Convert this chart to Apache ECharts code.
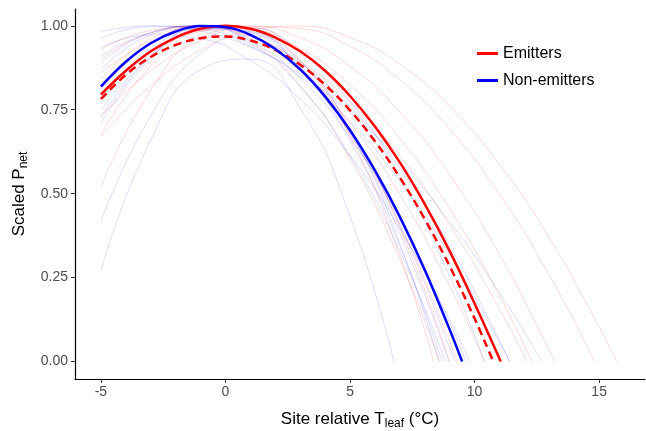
<!DOCTYPE html>
<html>
<head>
    <meta charset="utf-8">
    <title>Scaled Pnet</title>
    <script src="https://cdn.jsdelivr.net/npm/echarts@6/dist/echarts.min.js"></script>
    <style>
        html, body { margin: 0; padding: 0; background: #fff; }
        #main { width: 646px; height: 431px; }
    </style>
</head>
<body>
<div id="main"></div>
<script>
    // ---- data ----
    // thin per-species curves, sampled at these temperatures, then the point where they hit 0
    var thinX = [-5, -3, -1, 1, 3, 5, 7, 9, 11, 13, 15];

    var blueThinY = [
        [0.272, 0.659, 0.869, 0.901, 0.755, 0.432],
        [0.418, 0.732, 0.916, 0.970, 0.894, 0.688, 0.352],
        [0.710, 0.902, 0.992, 0.982, 0.870, 0.657, 0.344],
        [0.983, 1.000, 0.984, 0.936, 0.855, 0.741, 0.595, 0.416, 0.205],
        [0.963, 0.998, 0.990, 0.940, 0.848, 0.714, 0.537, 0.318, 0.057],
        [0.935, 0.973, 0.961, 0.896, 0.781, 0.613, 0.395, 0.125],
        [0.870, 0.973, 0.999, 0.947, 0.818, 0.612, 0.328],
        [0.890, 0.978, 0.999, 0.954, 0.844, 0.667, 0.424, 0.115],
        [0.750, 0.907, 0.988, 0.993, 0.922, 0.775, 0.552, 0.254],
        [0.726, 0.907, 0.992, 0.983, 0.878, 0.678, 0.382],
        [0.910, 0.980, 1.000, 0.969, 0.888, 0.757, 0.576, 0.345, 0.063],
        [0.770, 0.926, 0.996, 0.979, 0.875, 0.684, 0.406, 0.041]
    ];
    var blueThinEnd = [6.76, 8.56, 8.69, 12.7, 11.4, 9.81, 8.83, 9.65, 10.4, 8.96, 11.4, 9.2];

    var redThinY = [
        [0.520, 0.807, 0.965, 0.995, 0.897, 0.670, 0.315],
        [0.675, 0.880, 0.985, 0.989, 0.893, 0.696, 0.398],
        [0.930, 0.986, 0.999, 0.968, 0.893, 0.774, 0.612, 0.406, 0.156],
        [0.860, 0.954, 0.997, 0.989, 0.932, 0.823, 0.665, 0.455, 0.196],
        [0.800, 0.917, 0.983, 0.999, 0.964, 0.879, 0.743, 0.556, 0.319, 0.032],
        [0.730, 0.866, 0.955, 0.997, 0.991, 0.939, 0.839, 0.692, 0.498, 0.257],
        [0.670, 0.821, 0.927, 0.986, 0.999, 0.965, 0.885, 0.759, 0.587, 0.368, 0.103],
        [0.900, 0.979, 0.999, 0.961, 0.865, 0.710, 0.497, 0.225],
        [0.840, 0.962, 1.000, 0.953, 0.821, 0.604, 0.302],
        [0.810, 0.945, 0.999, 0.972, 0.865, 0.677, 0.409, 0.060]
    ];
    var redThinEnd = [8.36, 9.0, 12.1, 12.3, 13.2, 14.8, 15.7, 10.4, 8.6, 9.3];

    // group mean curves, sampled every degree from -5
    var meanX = [-5, -4, -3, -2, -1, 0, 1, 2, 3, 4, 5, 6, 7, 8, 9, 10];
    var emitY = [0.795, 0.866, 0.924, 0.965, 0.991, 1.000, 0.991, 0.965, 0.924, 0.866, 0.791, 0.700, 0.593, 0.469, 0.329, 0.173];
    var emitEnd = 11.05;
    var emitDashY = [0.782, 0.854, 0.907, 0.943, 0.963, 0.968, 0.956, 0.928, 0.884, 0.824, 0.748, 0.656, 0.548, 0.424, 0.284, 0.128];
    var emitDashEnd = 10.75;
    var nonEmitY = [0.819, 0.893, 0.948, 0.983, 0.999, 0.996, 0.973, 0.931, 0.870, 0.789, 0.689, 0.569, 0.431, 0.273, 0.095];
    var nonEmitEnd = 9.5;

    var xTicks = [-5, 0, 5, 10, 15];
    var yTicks = [0, 0.25, 0.5, 0.75, 1];

    // ---- build series ----
    function toPoints(xs, ys, end) {
        var pts = [];
        for (var i = 0; i < ys.length; i++) {
            pts.push([xs[i], ys[i]]);
        }
        pts.push([end, 0]);
        return pts;
    }

    var series = [];
    redThinY.forEach(function (ys, i) {
        series.push({
            name: 'r' + i, type: 'line', smooth: true, symbol: 'none', silent: true,
            lineStyle: {color: 'rgba(255,0,0,0.2)', width: 0.8},
            data: toPoints(thinX, ys, redThinEnd[i])
        });
    });
    blueThinY.forEach(function (ys, i) {
        series.push({
            name: 'b' + i, type: 'line', smooth: true, symbol: 'none', silent: true,
            lineStyle: {color: 'rgba(0,0,255,0.18)', width: 0.8},
            data: toPoints(thinX, ys, blueThinEnd[i])
        });
    });
    series.push({
        name: 'Emitters', type: 'line', smooth: 0.4, symbol: 'none', color: '#ff0000',
        lineStyle: {color: '#ff0000', width: 2.5},
        data: toPoints(meanX, emitY, emitEnd)
    });
    series.push({
        name: 'Emitters (dashed)', type: 'line', smooth: 0.4, symbol: 'none', color: '#ff0000',
        lineStyle: {color: '#ff0000', width: 2.5, type: [8, 5]},
        data: toPoints(meanX, emitDashY, emitDashEnd)
    });
    series.push({
        name: 'Non-emitters', type: 'line', smooth: 0.4, symbol: 'none', color: '#0000ff',
        lineStyle: {color: '#0000ff', width: 2.5},
        data: toPoints(meanX, nonEmitY, nonEmitEnd)
    });

    var chart = echarts.init(document.getElementById('main'));
    var font = 'Liberation Sans, Arial, sans-serif';

    var option = {
        animation: false,
        textStyle: {fontFamily: font},
        grid: {left: 75, right: 1, top: 9, bottom: 52, containLabel: false, outerBoundsMode: 'none'},
        legend: {
            data: ['Emitters', 'Non-emitters'],
            orient: 'vertical',
            left: 472,
            top: 40,
            icon: 'rect',
            itemWidth: 21,
            itemHeight: 3,
            itemGap: 10,
            textStyle: {fontSize: 16, color: '#000', fontFamily: font, lineHeight: 17}
        },
        xAxis: {
            type: 'value',
            min: -6.04,
            max: 16.84,
            name: '{a|Site relative T}{s|leaf}{a| (°C)}',
            nameLocation: 'middle',
            nameGap: 30,
            nameTextStyle: {
                rich: {
                    a: {fontSize: 17, color: '#000', fontFamily: font, lineHeight: 20},
                    s: {fontSize: 12, color: '#000', fontFamily: font, lineHeight: 20, padding: [10, 0, 0, 0]}
                }
            },
            splitLine: {show: false},
            axisLine: {show: true, onZero: false, lineStyle: {color: '#000', width: 1.2}},
            axisTick: {show: true, length: 4, customValues: xTicks, lineStyle: {color: '#333'}},
            axisLabel: {customValues: xTicks, color: '#4d4d4d', fontSize: 14, margin: 6, fontFamily: font}
        },
        yAxis: {
            type: 'value',
            min: -0.052,
            max: 1.05,
            name: '{a|Scaled P}{s|net}',
            nameLocation: 'middle',
            nameGap: 42,
            nameRotate: 90,
            nameTextStyle: {
                rich: {
                    a: {fontSize: 17, color: '#000', fontFamily: font, lineHeight: 20},
                    s: {fontSize: 12, color: '#000', fontFamily: font, lineHeight: 20, padding: [10, 0, 0, 0]}
                }
            },
            splitLine: {show: false},
            axisLine: {show: true, onZero: false, lineStyle: {color: '#000', width: 1.2}},
            axisTick: {show: true, length: 4, customValues: yTicks, lineStyle: {color: '#333'}},
            axisLabel: {
                customValues: yTicks, color: '#4d4d4d', fontSize: 14, margin: 7, fontFamily: font,
                formatter: function (v) { return v.toFixed(2); }
            }
        },
        series: series
    };

    chart.setOption(option);
</script>
</body>
</html>
